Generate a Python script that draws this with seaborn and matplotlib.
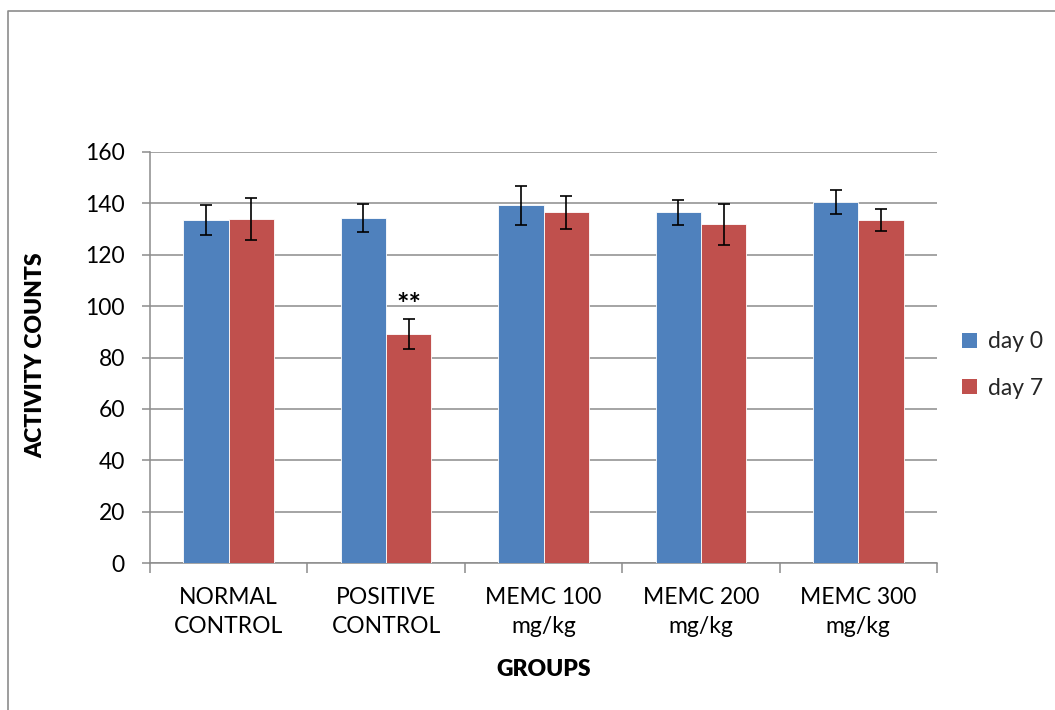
import matplotlib
matplotlib.use("Agg")
import matplotlib.pyplot as plt
import seaborn as sns
import pandas as pd
from matplotlib.lines import Line2D
from matplotlib.patches import Patch

# Activity counts per treatment group, mean and error, on day 0 and day 7
groups = ["NORMAL\nCONTROL", "POSITIVE\nCONTROL", "MEMC 100\nmg/kg",
          "MEMC 200\nmg/kg", "MEMC 300\nmg/kg"]
series = ["day 0", "day 7"]
day0 = [133.5, 134.3, 139.2, 136.5, 140.4]
day0_err = [5.8, 5.4, 7.5, 4.8, 4.7]
day7 = [133.9, 89.1, 136.5, 131.8, 133.5]
day7_err = [8.0, 5.9, 6.5, 8.0, 4.3]
day7_marks = ["", "**", "", "", ""]
y_ticks = [0, 20, 40, 60, 80, 100, 120, 140, 160]

colors = ["#4F81BD", "#C0504D"]
grid_gray = "#8C8C8C"
fs = 16.5

df = pd.DataFrame({
    "group": groups * 2,
    "series": [series[0]] * len(groups) + [series[1]] * len(groups),
    "value": day0 + day7,
})

sns.set_theme(style="white")
plt.rcParams["font.family"] = ["Lato", "DejaVu Sans"]

fig = plt.figure(figsize=(10.55, 7.10), dpi=100)
ax = fig.add_axes([150 / 1055, 1 - 563 / 710, 787 / 1055, 411 / 710])

sns.barplot(data=df, x="group", y="value", hue="series", order=groups,
            hue_order=series, palette=colors, width=0.575, gap=0,
            errorbar=None, saturation=1, edgecolor="white", linewidth=0.6,
            legend=False, ax=ax, zorder=3)

# Error bars and significance marks on top of each bar
for cont, errs, marks in zip(ax.containers, [day0_err, day7_err],
                             [[""] * len(groups), day7_marks]):
    for bar, err, mark in zip(cont, errs, marks):
        xc = bar.get_x() + bar.get_width() / 2
        h = bar.get_height()
        ax.errorbar(xc, h, yerr=err, fmt="none", ecolor="black",
                    elinewidth=1.2, capsize=4.6, capthick=1.2, zorder=4)
        if mark:
            ax.annotate(mark, (xc, h + err), xytext=(0, 1),
                        textcoords="offset points", ha="center", va="bottom",
                        fontsize=21, fontweight="bold", color="black")

ax.set_xlim(-0.5, len(groups) - 0.5)
ax.set_ylim(0, 160)
ax.set_yticks(y_ticks)
ax.yaxis.grid(True, color=grid_gray, linewidth=1.1, zorder=0)
ax.set_axisbelow(True)

for side in ["top", "right"]:
    ax.spines[side].set_visible(False)
for side in ["left", "bottom"]:
    ax.spines[side].set_color(grid_gray)
    ax.spines[side].set_linewidth(1.1)

# Category boundary ticks on the x axis
ax.set_xticks([i - 0.5 for i in range(len(groups) + 1)], minor=True)
ax.tick_params(axis="x", which="minor", length=7, color=grid_gray, width=1.1,
               direction="out", bottom=True)
ax.tick_params(axis="x", which="major", length=0, pad=17, labelsize=fs,
               labelcolor="black")
ax.tick_params(axis="y", which="major", length=6, color=grid_gray, width=1.1,
               direction="out", left=True, pad=12, labelsize=fs,
               labelcolor="black")
for lbl in ax.get_xticklabels():
    lbl.set_linespacing(1.5)

ax.set_xlabel("GROUPS", fontsize=fs, fontweight="heavy", labelpad=16,
              color="black")
ax.set_ylabel("ACTIVITY COUNTS", fontsize=fs, fontweight="heavy",
              color="black")
ax.yaxis.set_label_coords(46 / 1055, 0.5, transform=fig.transFigure)

handles = [Patch(facecolor=c, edgecolor="none") for c in colors]
fig.legend(handles, series, loc="center left",
           bbox_to_anchor=(962 / 1055, 1 - 365 / 710), frameon=False,
           fontsize=fs, handlelength=0.65, handleheight=0.65,
           handletextpad=0.5, labelspacing=1.1, borderaxespad=0, borderpad=0)

# Outer chart frame (top and left edges)
fig.add_artist(Line2D([8 / 1055, 8 / 1055, 1.0],
                      [0.0, 1 - 11 / 710, 1 - 11 / 710],
                      transform=fig.transFigure, color="#8C8C8C",
                      linewidth=1.2))

fig.savefig("out.png", dpi=100, facecolor="white")
